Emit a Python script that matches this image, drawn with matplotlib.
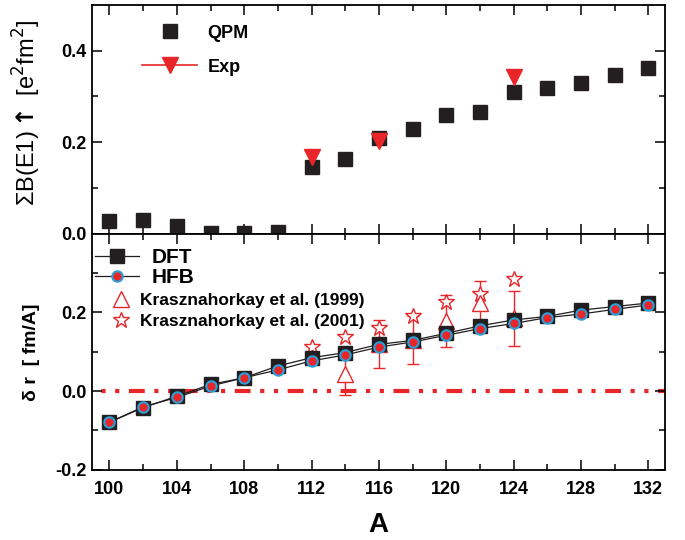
import matplotlib.pyplot as plt
from matplotlib.lines import Line2D

# mass numbers
A = [100, 102, 104, 106, 108, 110, 112, 114, 116, 118, 120, 122, 124, 126, 128, 130, 132]

# summed E1 strength, QPM and experiment
qpm = [0.029, 0.030, 0.018, 0.002, 0.002, 0.004, 0.145, 0.164, 0.209, 0.229, 0.259,
       0.267, 0.310, 0.318, 0.329, 0.347, 0.363]
A_exp = [112, 116, 124]
b_exp = [0.167, 0.202, 0.342]

# neutron skin
dft = [-0.079, -0.042, -0.013, 0.017, 0.034, 0.064, 0.085, 0.098, 0.119, 0.129, 0.147,
       0.166, 0.181, 0.190, 0.206, 0.215, 0.224]
hfb = [-0.079, -0.040, -0.016, 0.013, 0.034, 0.054, 0.077, 0.092, 0.112, 0.125, 0.142,
       0.159, 0.172, 0.187, 0.196, 0.208, 0.219]

A_k99 = [114, 116, 118, 120, 122, 124]
dr_k99 = [0.043, 0.120, 0.130, 0.178, 0.225, 0.185]
err_k99 = [0.054, 0.060, 0.060, 0.067, 0.055, 0.070]

A_k01 = [112, 114, 116, 118, 120, 122, 124]
dr_k01 = [0.113, 0.138, 0.160, 0.192, 0.226, 0.247, 0.284]

red = '#e8262a'
black = '#231f20'
cyan = '#2a9fd8'

plt.rcParams['font.family'] = ['Liberation Sans', 'DejaVu Sans']

fig = plt.figure(figsize=(6.85, 5.4), dpi=100)
ax1 = fig.add_axes([0.134, 0.567, 0.837, 0.424])
ax2 = fig.add_axes([0.134, 0.130, 0.837, 0.437], sharex=ax1)

for ax in (ax1, ax2):
    ax.tick_params(which='both', direction='in', top=True, right=True, width=1.1)
    ax.tick_params(which='major', length=7, labelsize=13)
    ax.tick_params(which='minor', length=4)
    for s in ax.spines.values():
        s.set_linewidth(1.3)

# upper panel
ax1.plot(A, qpm, 's', ms=10, color=black, mec=black, zorder=3)
ax1.plot(A_exp, b_exp, 'v', ms=11, color=red, zorder=4)
ax1.set_ylim(0, 0.5)
ax1.set_yticks([0.0, 0.2, 0.4])
ax1.set_yticks([0.1, 0.3], minor=True)
ax1.set_yticklabels(['0.0', '0.2', '0.4'], fontweight='bold')
ax1.tick_params(labelbottom=False)
ax1.set_ylabel('ΣB(E1)$\\mathbf{\\uparrow}$ [e$^2$fm$^2$]', fontsize=17)
ax1.yaxis.set_label_coords(-0.085, 0.53)

h_qpm = Line2D([], [], ls='none', marker='s', ms=10, color=black)
h_exp = Line2D([], [], ls='-', lw=1.2, marker='v', ms=11, color=red)
ax1.legend([h_qpm, h_exp], ['QPM', 'Exp'], loc='upper left', bbox_to_anchor=(0.06, 0.985),
           frameon=False, prop={'weight': 'bold', 'size': 13}, handlelength=3.0,
           handletextpad=0.6, labelspacing=0.95)

# lower panel
ax2.plot([98, 134], [0, 0], color=red, lw=3.0, dashes=(3.8, 2.3, 1, 2.3, 1, 2.3), zorder=1)
ax2.errorbar(A_k99, dr_k99, yerr=err_k99, fmt='^', ms=11, mfc='white', mec=red, color=red,
             ecolor=red, elinewidth=1, capsize=4, capthick=1, zorder=2)
ax2.plot(A_k01, dr_k01, '*', ms=12, mfc='white', mec=red, mew=1, zorder=2)
ax2.plot(A, dft, '-s', color=black, lw=0.9, ms=9.5, mec=black, zorder=3)
ax2.plot(A, hfb, '-o', color=black, lw=0.9, ms=7.5, mfc=red, mec=cyan, mew=1.5, zorder=4)

ax2.set_xlim(98.95, 133)
ax2.set_xticks(range(100, 133, 4))
ax2.set_xticks(range(102, 133, 4), minor=True)
ax2.set_xticklabels([str(v) for v in range(100, 133, 4)], fontweight='bold')
ax2.tick_params(axis='x', which='major', pad=8)
ax2.set_ylim(-0.2, 0.4)
ax2.set_yticks([-0.2, 0.0, 0.2])
ax2.set_yticks([-0.1, 0.1, 0.3], minor=True)
ax2.set_yticklabels(['-0.2', '0.0', '0.2'], fontweight='bold')
ax2.set_xlabel('A', fontsize=20, fontweight='bold', labelpad=10)
ax2.set_ylabel('δ r  [ fm/A]', fontsize=14, fontweight='bold')
ax2.yaxis.set_label_coords(-0.09, 0.5)

h_dft = Line2D([], [], ls='-', lw=0.9, marker='s', ms=9.5, color=black)
h_hfb = Line2D([], [], ls='-', lw=0.9, marker='o', ms=7.5, color=black, mfc=red, mec=cyan, mew=1.5)
leg1 = ax2.legend([h_dft, h_hfb], ['DFT', 'HFB'], loc='upper left', bbox_to_anchor=(-0.02, 1.0),
                  frameon=False, prop={'weight': 'bold', 'size': 15}, handlelength=2.1,
                  handletextpad=0.6, labelspacing=0.05, borderaxespad=0.3)
ax2.add_artist(leg1)
h_k99 = Line2D([], [], ls='none', marker='^', ms=11, mfc='white', mec=red)
h_k01 = Line2D([], [], ls='none', marker='*', ms=12, mfc='white', mec=red, mew=1)
ax2.legend([h_k99, h_k01], ['Krasznahorkay et al. (1999)', 'Krasznahorkay et al. (2001)'],
           loc='upper left', bbox_to_anchor=(0.005, 0.815), frameon=False,
           prop={'weight': 'bold', 'size': 12.5}, handlelength=1.2, handletextpad=0.5,
           labelspacing=0.35)

fig.savefig('out.png', dpi=100)
